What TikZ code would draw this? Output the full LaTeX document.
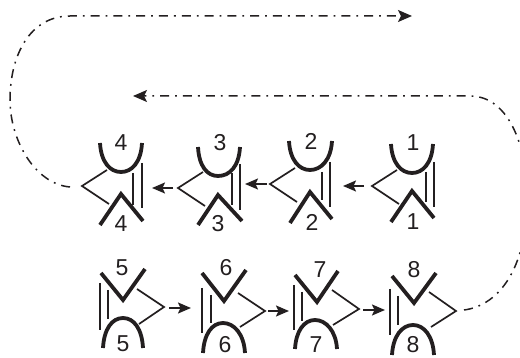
\documentclass[tikz,border=0pt]{standalone}
\usepackage{fontspec}
\setmainfont{Liberation Sans}
\usetikzlibrary{arrows.meta}
\definecolor{ink}{HTML}{231F20}
\tikzset{
  x=1pt,y=-1pt,
  thickline/.style={draw=ink,line width=3.8pt},
  thinline/.style={draw=ink,line width=1.7pt},
  flow/.style={draw=ink,line width=1.7pt,-{Stealth[length=13pt,width=11pt,inset=2.5pt]}},
  dashdot/.style={draw=ink,line width=1.5pt,dash pattern=on 9pt off 6pt on 1.8pt off 6pt},
  dashhead/.style={dashdot,-{Stealth[length=14pt,width=12pt,inset=3pt]}},
  digit/.style={text=ink,inner sep=0pt,font=\fontsize{23}{23}\selectfont},
}
\begin{document}
\begin{tikzpicture}
\useasboundingbox (0,0) rectangle (520,358);
% top row: unit 4
\draw[thickline] (100,143) .. controls (101,162) and (110,172) .. (121,172) .. controls (132,172) and (141,162) .. (142,143);
\draw[thickline] (100,225) -- (121,194) -- (143,221);
\draw[thinline] (107,170) -- (82,186) -- (109,204);
\draw[thinline] (133,173) -- (133,205);
\draw[thinline] (142,163) -- (142,208);
\node[digit] (n4a) at (121,143) {4};
\node[digit] (n4b) at (121,224) {4};
% unit 3
\draw[thickline] (198,147) .. controls (199,166) and (207,176) .. (218,176) .. controls (230,176) and (239,166) .. (240,147);
\draw[thickline] (198,225) -- (218,195) -- (242,221);
\draw[thinline] (203,172) -- (178,188) -- (205,206);
\draw[thinline] (232,173) -- (232,205);
\draw[thinline] (240,164) -- (240,210);
\node[digit] (n3a) at (220,143) {3};
\node[digit] (n3b) at (218,224) {3};
% unit 2
\draw[thickline] (289,141) .. controls (290,160) and (299,170) .. (310,170) .. controls (321,170) and (331,160) .. (332,141);
\draw[thickline] (290,223) -- (310,192) -- (332,219);
\draw[thinline] (295,168) -- (270,184) -- (297,202);
\draw[thinline] (322,172) -- (322,200);
\draw[thinline] (330,162) -- (330,207);
\node[digit] (n2a) at (311,141) {2};
\node[digit] (n2b) at (312,222) {2};
% unit 1
\draw[thickline] (391,144) .. controls (392,163) and (401,173) .. (412,173) .. controls (423,173) and (432,163) .. (433,144);
\draw[thickline] (391,222) -- (412,191) -- (434,218);
\draw[thinline] (397,170) -- (372,186) -- (399,204);
\draw[thinline] (426,172) -- (426,202);
\draw[thinline] (434,162) -- (434,207);
\node[digit] (n1a) at (413,143) {1};
\node[digit] (n1b) at (413,222) {1};
% bottom row: unit 5
\draw[thickline] (101,273) -- (123,300) -- (145,269);
\draw[thickline] (103,348) .. controls (104,329) and (112,318) .. (123,318) .. controls (134,318) and (142,329) .. (143,348);
\draw[thinline] (137,289) -- (164,307) -- (139,324);
\draw[thinline] (100,283) -- (100,330);
\draw[thinline] (108,290) -- (108,319);
\node[digit] (n5a) at (122,268) {5};
\node[digit] (n5b) at (123,344) {5};
% unit 6
\draw[thickline] (202,273) -- (224,301) -- (246,270);
\draw[thickline] (203,353) .. controls (204,334) and (212,323) .. (223,323) .. controls (234,323) and (244,334) .. (245,353);
\draw[thinline] (238,293) -- (265,311) -- (240,327);
\draw[thinline] (202,288) -- (202,333);
\draw[thinline] (211,295) -- (211,323);
\node[digit] (n6a) at (226,268) {6};
\node[digit] (n6b) at (225,345) {6};
% unit 7
\draw[thickline] (295,275) -- (317,302) -- (338,271);
\draw[thickline] (295,349) .. controls (296,331) and (304,320) .. (315,320) .. controls (326,320) and (336,331) .. (337,349);
\draw[thinline] (332,290) -- (359,309) -- (333,325);
\draw[thinline] (294,285) -- (294,330);
\draw[thinline] (302,292) -- (302,321);
\node[digit] (n7a) at (320,270) {7};
\node[digit] (n7b) at (316,345) {7};
% unit 8
\draw[thickline] (392,276) -- (414,303) -- (436,273);
\draw[thickline] (392,355) .. controls (393,336) and (402,325) .. (413,325) .. controls (424,325) and (433,336) .. (434,355);
\draw[thinline] (429,292) -- (456,311) -- (431,327);
\draw[thinline] (390,289) -- (390,335);
\draw[thinline] (398,296) -- (398,325);
\node[digit] (n8a) at (414,270) {8};
\node[digit] (n8b) at (413,345) {8};
% arrows
\coordinate (a1s) at (364,186); \coordinate (a1e) at (343,186);
\coordinate (a2s) at (267,184); \coordinate (a2e) at (245,184);
\coordinate (a3s) at (173,188); \coordinate (a3e) at (152,188);
\coordinate (b1s) at (169,308); \coordinate (b1e) at (191,308);
\coordinate (b2s) at (268,311); \coordinate (b2e) at (289,311);
\coordinate (b3s) at (363,310); \coordinate (b3e) at (385,310);
\foreach \a/\b in {a1s/a1e,a2s/a2e,a3s/a3e,b1s/b1e,b2s/b2e,b3s/b3e}
  \draw[flow] (\a) -- (\b);
% long dash-dot paths
\coordinate (t1) at (70,187); \coordinate (t2) at (412,16);
\draw[dashhead] (t1) .. controls (35,184) and (10,140) .. (10,100) .. controls (10,55) and (30,16) .. (70,16) -- (t2);
\coordinate (r1) at (464,310); \coordinate (r2) at (133,96);
\begin{scope}
\clip (0,0) rectangle (520,358);
\draw[dashhead] (r1) .. controls (495,306) and (525,275) .. (527,205) .. controls (529,150) and (510,96) .. (470,96) -- (r2);
\end{scope}
\end{tikzpicture}
\end{document}
